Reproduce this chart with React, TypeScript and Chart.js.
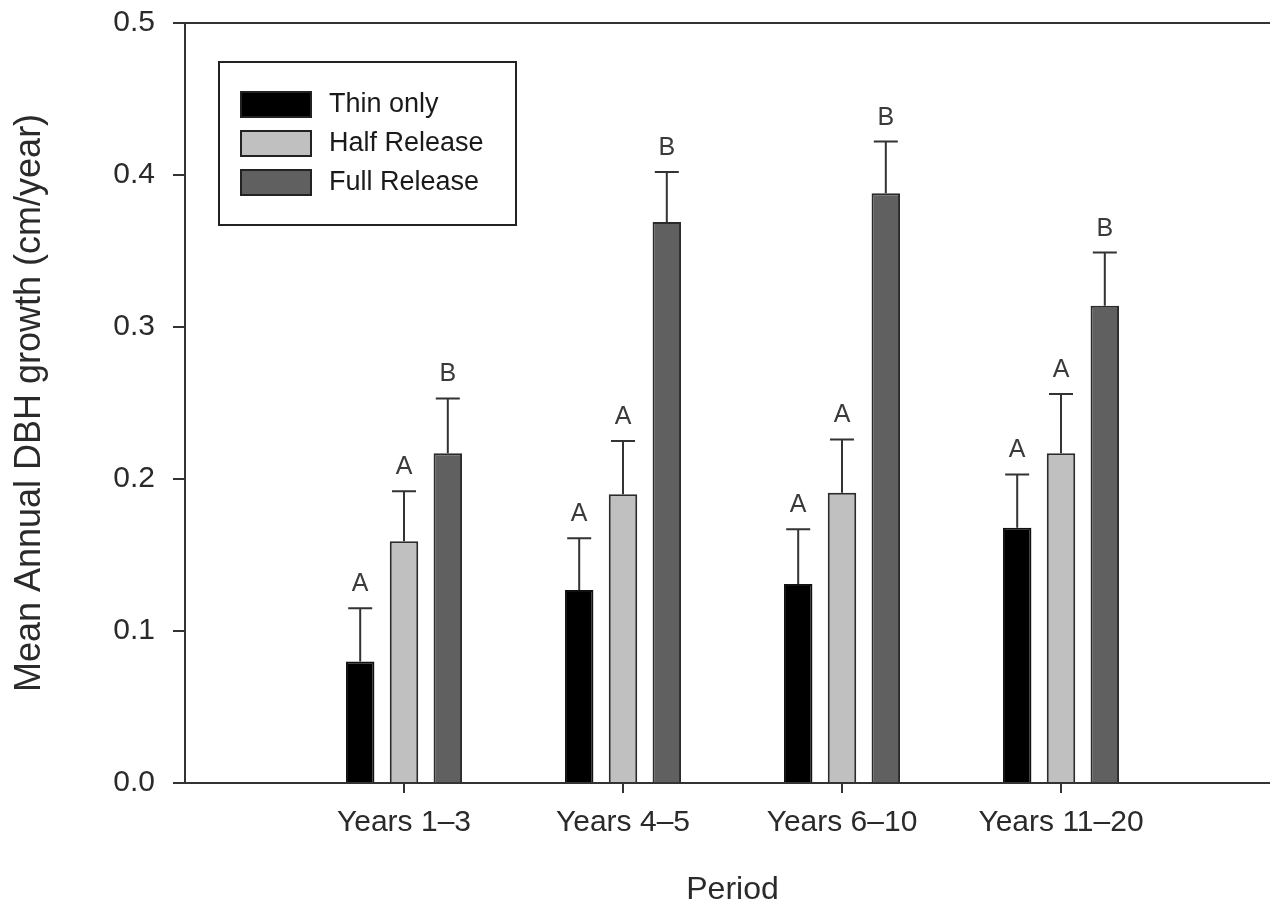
import { useEffect, useRef } from 'react';
import { Chart, registerables } from 'chart.js';

Chart.register(...registerables);

const categories = ['Years 1–3', 'Years 4–5', 'Years 6–10', 'Years 11–20'];
const seriesNames = ['Thin only', 'Half Release', 'Full Release'];
const thinOnly = [0.080, 0.127, 0.131, 0.168];
const halfRelease = [0.159, 0.190, 0.191, 0.217];
const fullRelease = [0.217, 0.369, 0.388, 0.314];
const thinErr = [0.035, 0.034, 0.036, 0.035];
const halfErr = [0.033, 0.035, 0.035, 0.039];
const fullErr = [0.036, 0.033, 0.034, 0.035];
const thinLetters = ['A', 'A', 'A', 'A'];
const halfLetters = ['A', 'A', 'A', 'A'];
const fullLetters = ['B', 'B', 'B', 'B'];
const yTicks = [0, 0.1, 0.2, 0.3, 0.4, 0.5];

const FONT = '"Liberation Sans", Arial, sans-serif';
const INK = '#2a2a2a';
const LINE = '#333333';

const pad = (arr: number[]) => [null, ...arr, null];

const extrasPlugin = {
  id: 'extras',
  afterDatasetsDraw(chart: any) {
    const ctx = chart.ctx;
    const y = chart.scales.y;
    ctx.save();
    chart.data.datasets.forEach((ds: any, di: number) => {
      const meta = chart.getDatasetMeta(di);
      ds.errors.forEach((e: number, j: number) => {
        const idx = j + 1;
        const bar = meta.data[idx];
        const v = ds.data[idx];
        if (!bar || v == null) return;
        const yBar = y.getPixelForValue(v);
        const yTop = y.getPixelForValue(v + e);
        ctx.strokeStyle = LINE;
        ctx.lineWidth = 2;
        ctx.beginPath();
        ctx.moveTo(bar.x, yBar);
        ctx.lineTo(bar.x, yTop);
        ctx.moveTo(bar.x - 12, yTop);
        ctx.lineTo(bar.x + 12, yTop);
        ctx.stroke();
        ctx.fillStyle = '#3a3a3a';
        ctx.font = `25px ${FONT}`;
        ctx.textAlign = 'center';
        ctx.textBaseline = 'alphabetic';
        ctx.fillText(ds.letters[j], bar.x, yTop - 17);
      });
    });
    ctx.restore();
  },
  afterDraw(chart: any) {
    const ctx = chart.ctx;
    const ca = chart.chartArea;
    ctx.save();
    // top frame line
    ctx.strokeStyle = LINE;
    ctx.lineWidth = 2;
    ctx.beginPath();
    ctx.moveTo(ca.left, ca.top);
    ctx.lineTo(ca.right, ca.top);
    ctx.stroke();
    // legend box
    const bx = ca.left + 34;
    const by = ca.top + 39;
    const bw = 297;
    const bh = 163;
    ctx.fillStyle = '#ffffff';
    ctx.fillRect(bx, by, bw, bh);
    ctx.strokeStyle = '#222';
    ctx.lineWidth = 2;
    ctx.strokeRect(bx, by, bw, bh);
    chart.data.datasets.forEach((ds: any, i: number) => {
      const sx = bx + 22;
      const sy = by + 30 + i * 39;
      ctx.fillStyle = ds.backgroundColor;
      ctx.fillRect(sx, sy, 70, 25);
      ctx.strokeStyle = '#222';
      ctx.lineWidth = 2;
      ctx.strokeRect(sx, sy, 70, 25);
      ctx.fillStyle = '#1a1a1a';
      ctx.font = `27px ${FONT}`;
      ctx.textAlign = 'left';
      ctx.textBaseline = 'middle';
      ctx.fillText(ds.label, bx + 110, sy + 13);
    });
    ctx.restore();
  },
};

export default function App() {
  const ref = useRef<HTMLCanvasElement | null>(null);

  useEffect(() => {
    if (!ref.current) return;
    const chart = new Chart(ref.current, {
      type: 'bar',
      data: {
        labels: ['', ...categories, ''],
        datasets: [
          {
            label: seriesNames[0],
            data: pad(thinOnly),
            backgroundColor: '#000000',
            borderColor: '#111111',
            borderWidth: 2,
            errors: thinErr,
            letters: thinLetters,
          } as any,
          {
            label: seriesNames[1],
            data: pad(halfRelease),
            backgroundColor: '#c0c0c0',
            borderColor: '#2b2b2b',
            borderWidth: 2,
            errors: halfErr,
            letters: halfLetters,
          } as any,
          {
            label: seriesNames[2],
            data: pad(fullRelease),
            backgroundColor: '#606060',
            borderColor: '#2b2b2b',
            borderWidth: 2,
            errors: fullErr,
            letters: fullLetters,
          } as any,
        ],
      },
      options: {
        responsive: false,
        animation: false,
        devicePixelRatio: 1,
        categoryPercentage: 0.6,
        barPercentage: 0.65,
        layout: { padding: { top: 23, right: 10, left: 0, bottom: 0 } },
        plugins: {
          legend: { display: false },
          tooltip: { enabled: false },
        },
        scales: {
          x: {
            type: 'category',
            offset: false,
            grid: {
              offset: false,
              drawOnChartArea: false,
              drawTicks: true,
              tickLength: 10,
              lineWidth: 2,
              color: (c: any) =>
                c.index === 0 || c.index === categories.length + 1 ? 'rgba(0,0,0,0)' : LINE,
            },
            border: { color: LINE, width: 2 },
            ticks: {
              font: { family: FONT, size: 30 },
              color: INK,
              padding: 12,
              maxRotation: 0,
              autoSkip: false,
            },
            title: {
              display: true,
              text: 'Period',
              font: { family: FONT, size: 32, lineHeight: 1 },
              color: INK,
              padding: { top: 0, bottom: 0 },
            },
            afterFit: (s: any) => {
              s.height = 123;
              s.paddingLeft = 0;
              s.paddingRight = 0;
            },
          },
          y: {
            min: 0,
            max: 0.5,
            afterBuildTicks: (s: any) => {
              s.ticks = yTicks.map((v) => ({ value: v }));
            },
            ticks: {
              callback: (v: any) => Number(v).toFixed(1),
              font: { family: FONT, size: 30 },
              color: INK,
              padding: 18,
            },
            grid: {
              drawOnChartArea: false,
              tickLength: 12,
              lineWidth: 2,
              color: LINE,
            },
            border: { color: LINE, width: 2 },
            title: {
              display: true,
              text: 'Mean Annual DBH growth (cm/year)',
              font: { family: FONT, size: 36, lineHeight: 1 },
              color: INK,
              padding: { top: 12, bottom: 0 },
            },
            afterFit: (s: any) => {
              s.width = 185;
              s.paddingTop = 0;
              s.paddingBottom = 0;
            },
          },
        },
      } as any,
      plugins: [extrasPlugin],
    });
    return () => chart.destroy();
  }, []);

  return (
    <div
      style={{
        position: 'fixed',
        left: 0,
        top: 0,
        width: 1270,
        height: 906,
        overflow: 'hidden',
        background: '#ffffff',
      }}
    >
      <canvas ref={ref} width={1290} height={906} style={{ display: 'block', width: 1290, height: 906 }} />
    </div>
  );
}
